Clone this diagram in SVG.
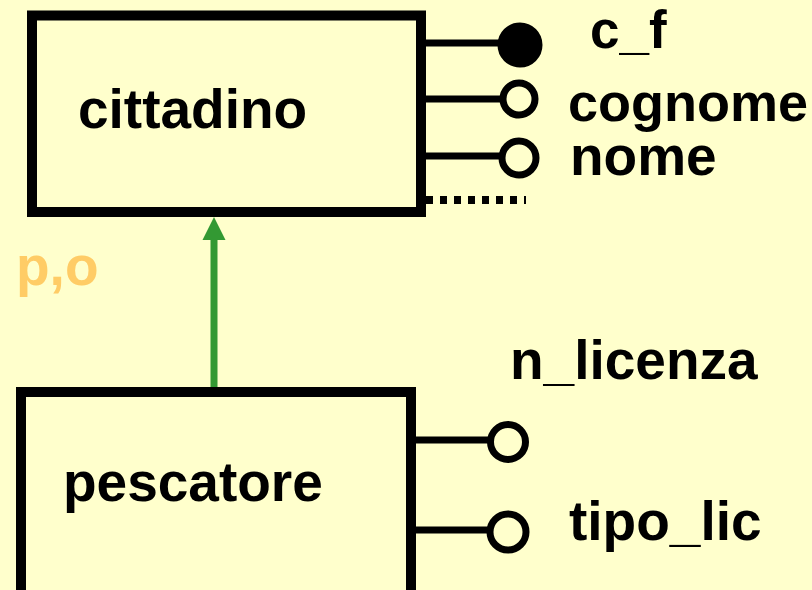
<svg xmlns="http://www.w3.org/2000/svg" width="812" height="590" viewBox="0 0 812 590">
<defs>
<style>
text{font-family:"Liberation Sans",Arial,sans-serif;font-weight:bold;font-size:55px;fill:#000}
.box{fill:#FFFFCC;stroke:#000;stroke-width:10}
.att{stroke:#000;stroke-width:7;fill:none}
.oc{fill:#FFFFCC;stroke:#000;stroke-width:7}
.fc{fill:#000;stroke:#000;stroke-width:7}
</style>
</defs>
<rect width="812" height="590" fill="#FFFFCC"/>
<g id="connectors">
<line x1="214" y1="387" x2="214" y2="236" stroke="#339933" stroke-width="7"/>
<path d="M202.5,240 L214,217 L225.5,240 Z" fill="#339933"/>
<text x="16" y="285" style="fill:#FFCC66">p,o</text>
</g>
<g id="cittadino">
<rect class="box" x="32" y="15.5" width="389" height="196.5"/>
<text x="78" y="128">cittadino</text>
</g>
<g id="attr-c_f">
<line class="att" x1="421" y1="43" x2="505" y2="43"/>
<circle class="fc" cx="520" cy="45" r="19"/>
<text x="590" y="48" style="font-size:53px">c_f</text>
</g>
<g id="attr-cognome">
<line class="att" x1="421" y1="99" x2="503" y2="99"/>
<circle class="oc" cx="519" cy="99" r="16"/>
<text x="568" y="121" style="font-size:54px">cognome</text>
</g>
<g id="attr-nome">
<line class="att" x1="421" y1="156" x2="503" y2="156"/>
<circle class="oc" cx="519" cy="158" r="17"/>
<text x="570" y="175">nome</text>
</g>
<g id="more">
<line x1="426" y1="200" x2="526" y2="200" stroke="#000" stroke-width="8" stroke-dasharray="7 7"/>
</g>
<g id="pescatore">
<rect class="box" x="21" y="392" width="390" height="215"/>
<text x="63" y="501">pescatore</text>
</g>
<g id="attr-n_licenza">
<line class="att" x1="411" y1="440" x2="492" y2="440"/>
<circle class="oc" cx="508" cy="442" r="17.5"/>
<text x="510" y="379">n_licenza</text>
</g>
<g id="attr-tipo_lic">
<line class="att" x1="411" y1="530" x2="492" y2="530"/>
<circle class="oc" cx="508" cy="532" r="18"/>
<text x="569" y="540">tipo_lic</text>
</g>
</svg>
